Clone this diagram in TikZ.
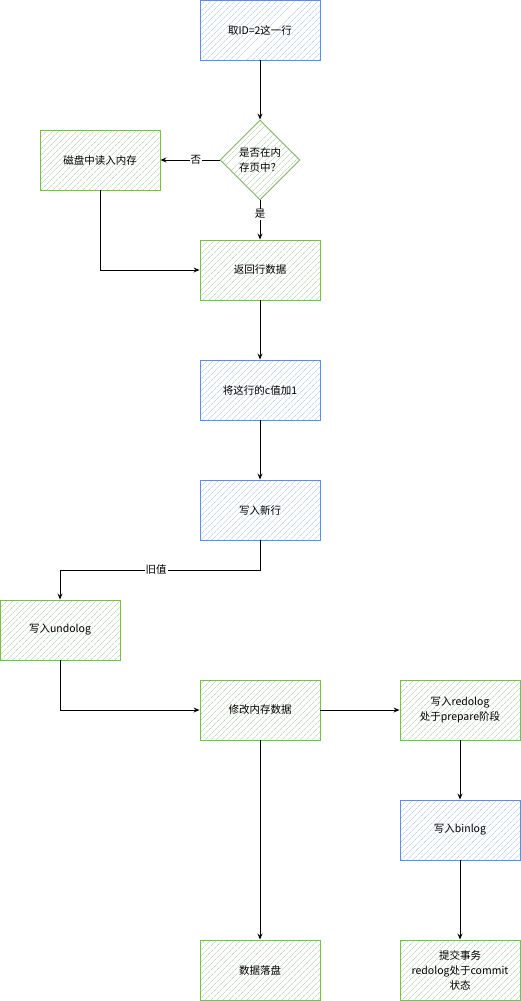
\documentclass[tikz,border=0pt]{standalone}
\usepackage{fontspec}
\newfontfamily\cjk{Noto Sans CJK SC}
\usetikzlibrary{shapes.geometric,arrows.meta,patterns.meta}
\definecolor{bfill}{HTML}{DAE8FC}
\definecolor{bline}{HTML}{6C8EBF}
\definecolor{gfill}{HTML}{D5E8D4}
\definecolor{gline}{HTML}{82B366}
\tikzset{
  boxbase/.style={rectangle,minimum width=120pt,minimum height=60pt,inner sep=0pt,align=center,font=\cjk\fontsize{10.5}{15}\selectfont,line width=0.9pt},
  bluebox/.style={boxbase,draw=bline,pattern={Lines[angle=45,distance=4pt,line width=0.7pt]},pattern color=bfill!80!bline},
  greenbox/.style={boxbase,draw=gline,pattern={Lines[angle=45,distance=4pt,line width=0.7pt]},pattern color=gfill!80!gline},
  dia/.style={diamond,aspect=1,minimum width=80pt,minimum height=80pt,inner sep=0pt,align=center,font=\cjk\fontsize{10.5}{15}\selectfont,line width=0.9pt,draw=gline,pattern={Lines[angle=45,distance=4pt,line width=0.7pt]},pattern color=gfill!80!gline},
  conn/.style={draw=black,line width=0.9pt,-{Stealth[length=6pt,width=5pt,open]}},
  lbl/.style={fill=white,inner sep=1pt,font=\cjk\fontsize{10.5}{12}\selectfont}
}
\begin{document}
\begin{tikzpicture}[x=1pt,y=-1pt]
\useasboundingbox (0,0) rectangle (521,1001);
\node[bluebox] (n1) at (260,30) {取ID=2这一行};
\node[dia] (d) at (260,160) {是否在内\\存页中？};
\node[greenbox] (disk) at (100,160) {磁盘中读入内存};
\node[greenbox] (ret) at (260,270) {返回行数据};
\node[bluebox] (add) at (260,390) {将这行的c值加1};
\node[bluebox] (neww) at (260,510) {写入新行};
\node[greenbox] (undo) at (60,630) {写入undolog};
\node[greenbox] (mod) at (260,710) {修改内存数据};
\node[greenbox] (redo) at (460,710) {写入redolog\\处于prepare阶段};
\node[bluebox] (bin) at (460,830) {写入binlog};
\node[greenbox] (flush) at (260,970) {数据落盘};
\node[greenbox] (commit) at (460,970) {提交事务\\redolog处于commit\\状态};
\coordinate (c1) at (100,270);
\coordinate (c2) at (260,570);
\coordinate (c3) at (60,570);
\coordinate (c4) at (60,710);
\draw[conn] (n1) -- (d);
\draw[conn] (d) -- node[lbl,pos=0.4] (no) {否} (disk);
\draw[conn] (d) -- node[lbl,pos=0.35] (yes) {是} (ret);
\draw[conn] (disk) -- (c1) -- (ret);
\draw[conn] (ret) -- (add);
\draw[conn] (add) -- (neww);
\draw[conn] (neww) -- (c2) -- node[lbl,pos=0.52] (old) {旧值} (c3) -- (undo);
\draw[conn] (undo) -- (c4) -- (mod);
\draw[conn] (mod) -- (redo);
\draw[conn] (redo) -- (bin);
\draw[conn] (bin) -- (commit);
\draw[conn] (mod) -- (flush);
\end{tikzpicture}
\end{document}
